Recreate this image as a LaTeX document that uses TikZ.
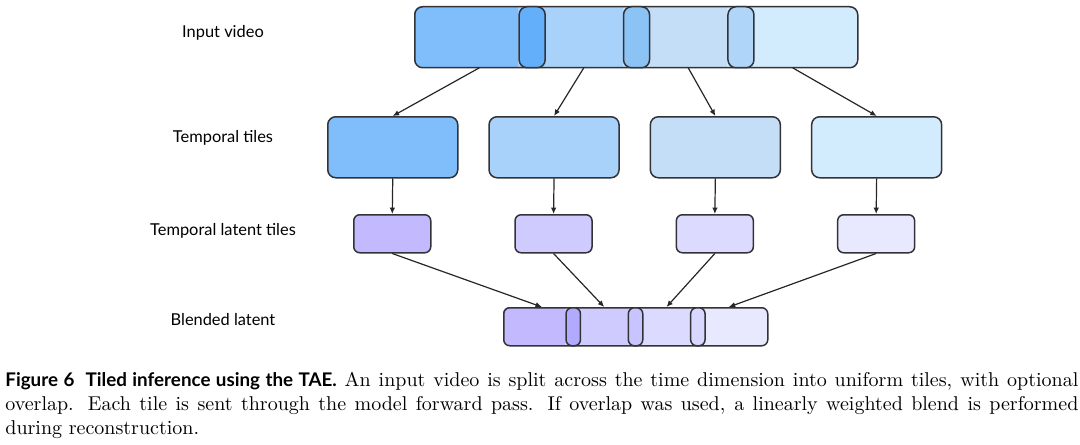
\documentclass[tikz,border=0pt]{standalone}
\usepackage{fontspec}
\newfontfamily\labelfont{Lato}
\usetikzlibrary{positioning, arrows.meta}

% Tile colours
\definecolor{vidA}{RGB}{127,189,251}
\definecolor{vidB}{RGB}{168,210,250}
\definecolor{vidC}{RGB}{197,222,248}
\definecolor{vidD}{RGB}{210,235,253}
\definecolor{vidAB}{RGB}{100,175,250}
\definecolor{vidBC}{RGB}{140,195,245}
\definecolor{vidCD}{RGB}{175,213,248}
\definecolor{latA}{RGB}{195,185,255}
\definecolor{latB}{RGB}{207,203,255}
\definecolor{latC}{RGB}{220,218,255}
\definecolor{latD}{RGB}{232,232,255}
\definecolor{latAB}{RGB}{178,170,255}
\definecolor{latBC}{RGB}{200,196,255}
\definecolor{latCD}{RGB}{216,215,255}
\definecolor{boxline}{RGB}{50,50,55}

\begin{document}
\begin{tikzpicture}[x=0.5pt, y=-0.5pt,
    tilebox/.style={draw=boxline, line width=0.75pt, rounded corners=4pt, inner sep=0pt, anchor=north west},
    smallbox/.style={tilebox, rounded corners=3pt},
    ghost/.style={inner sep=0pt, anchor=north west},
    rowlabel/.style={font=\labelfont\fontsize{8.2}{10}\selectfont},
    flow/.style={-{Latex[length=3.2pt, width=2.8pt]}, line width=0.6pt, black!85}]
  \useasboundingbox (0,0) rectangle (1080,444);

  % Row labels
  \node[rowlabel] (lvideo) at (223,33) {Input video};
  \node[rowlabel] (ltiles) at (223,138) {Temporal tiles};
  \node[rowlabel] (llatent) at (223,231) {Temporal latent tiles};
  \node[rowlabel] (lblend) at (223,320) {Blended latent};

  % Input video bar
  \begin{scope}
    \clip[rounded corners=4pt] (414,6) rectangle (857,67);
    \foreach \xa/\xb/\c in {414/518.4/vidA, 518.4/622.8/vidB, 622.8/727.2/vidC, 727.2/857/vidD}
      \fill[\c] (\xa,6) rectangle (\xb,67);
  \end{scope}
  \node[tilebox, minimum width=221.5pt, minimum height=30.5pt] (video) at (414,6) {};
  \foreach \c [count=\i] in {vidAB, vidBC, vidCD}
    \node[tilebox, fill=\c, minimum width=13pt, minimum height=30.5pt] (vover\i) at (414+104.4*\i,6) {};
  % Invisible video tiles
  \foreach \i in {1,...,4}
    \node[ghost, minimum width=65pt, minimum height=30.5pt] (vid\i) at (414+104.4*\i-104.4,6) {};

  % Temporal tiles and latent tiles
  \foreach \c/\l [count=\i] in {vidA/latA, vidB/latB, vidC/latC, vidD/latD} {
    \node[tilebox, fill=\c, minimum width=65pt, minimum height=30.5pt] (tile\i) at (327+161.3*\i-161.3,116) {};
    \node[smallbox, fill=\l, minimum width=38.5pt, minimum height=19pt] (lat\i) at (353+161.3*\i-161.3,214) {};
  }

  % Blended latent bar
  \begin{scope}
    \clip[rounded corners=3pt] (503,307) rectangle (767,345);
    \foreach \xa/\xb/\c in {503/565.3/latA, 565.3/627.6/latB, 627.6/689.9/latC, 689.9/767/latD}
      \fill[\c] (\xa,307) rectangle (\xb,345);
  \end{scope}
  \node[smallbox, minimum width=132pt, minimum height=19pt] (blend) at (503,307) {};
  \foreach \c [count=\i] in {latAB, latBC, latCD}
    \node[smallbox, fill=\c, minimum width=7.2pt, minimum height=19pt] (bover\i) at (503+62.3*\i,307) {};
  % Invisible blended tiles
  \foreach \i in {1,...,4}
    \node[ghost, minimum width=38.5pt, minimum height=19pt] (blend\i) at (503+62.3*\i-62.3,307) {};

  % Connectors
  \foreach \i in {1,...,4} {
    \draw[flow] (vid\i.south) -- (tile\i.north);
    \draw[flow] (tile\i.south) -- (lat\i.north);
    \draw[flow] (lat\i.south) -- (blend\i.north);
  }

  % Caption
  \node[anchor=north west, inner sep=0pt, text width=536.5pt, align=justify,
        font=\fontsize{10}{12}\selectfont] (caption) at (5,372)
    {{\labelfont\bfseries\fontsize{9.4}{12}\selectfont Figure 6\hspace{0.6em}Tiled inference using the TAE.} An input video is split across the time dimension into uniform tiles, with optional\linebreak
     overlap. Each tile is sent through the model forward pass. If overlap was used, a linearly weighted blend is performed\linebreak
     during reconstruction.};
\end{tikzpicture}
\end{document}
